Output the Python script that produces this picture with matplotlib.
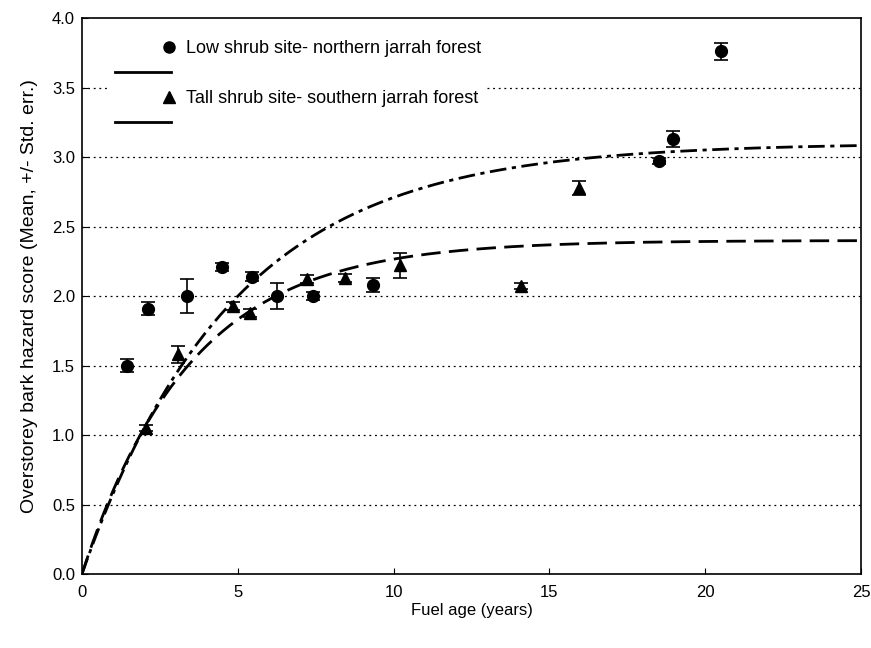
import numpy as np
import matplotlib
matplotlib.use("Agg")
import matplotlib.pyplot as plt
from matplotlib.lines import Line2D
from matplotlib.legend_handler import HandlerLine2D

plt.rcParams['font.family'] = ['Liberation Sans', 'DejaVu Sans']

# Low shrub site - northern jarrah forest (circles)
low_age = [1.43, 2.13, 3.36, 4.48, 5.45, 6.25, 7.42, 9.35, 18.53, 18.96, 20.5]
low_score = [1.50, 1.91, 2.00, 2.21, 2.14, 2.00, 2.00, 2.08, 2.97, 3.13, 3.76]
low_err = [0.05, 0.05, 0.12, 0.03, 0.03, 0.09, 0.03, 0.05, 0.02, 0.06, 0.06]

# Tall shrub site - southern jarrah forest (triangles)
tall_age = [2.07, 3.09, 4.86, 5.39, 7.21, 8.44, 10.2, 14.1, 15.95]
tall_score = [1.05, 1.58, 1.93, 1.88, 2.12, 2.13, 2.22, 2.07, 2.78]
tall_err = [0.02, 0.06, 0.03, 0.03, 0.03, 0.03, 0.09, 0.02, 0.05]

# fitted curves y = a * (1 - exp(-b * age)), parameters
low_fit_a, low_fit_b = 3.10, 0.207
tall_fit_a, tall_fit_b = 2.40, 0.288

x_ticks = [0, 5, 10, 15, 20, 25]
y_ticks = [0.0, 0.5, 1.0, 1.5, 2.0, 2.5, 3.0, 3.5, 4.0]

fig = plt.figure(figsize=(8.71, 6.48), dpi=100)
ax = fig.add_axes([0.0941, 0.1142, 0.8944, 0.858])

for yt in y_ticks[1:-1]:
    ax.axhline(yt, color='black', linestyle=(0, (1.5, 3)), linewidth=0.9, zorder=1)

xs = np.linspace(0, 25, 300)
ax.plot(xs, low_fit_a * (1 - np.exp(-low_fit_b * xs)), color='black', lw=2,
        linestyle=(0, (6, 2, 1.5, 2)), zorder=2)
ax.plot(xs, tall_fit_a * (1 - np.exp(-tall_fit_b * xs)), color='black', lw=2,
        linestyle=(0, (7, 3)), zorder=2)

ax.errorbar(low_age, low_score, yerr=low_err, fmt='o', color='black', ms=8.5,
            capsize=5, elinewidth=1.2, capthick=1.2, zorder=4)
ax.errorbar(tall_age, tall_score, yerr=tall_err, fmt='^', color='black', ms=8.5,
            capsize=5, elinewidth=1.2, capthick=1.2, zorder=4)

ax.set_xlim(0, 25)
ax.set_ylim(0, 4)
ax.set_xticks(x_ticks)
ax.set_yticks(y_ticks)
ax.set_yticklabels([f"{v:.1f}" for v in y_ticks])
ax.tick_params(direction='in', labelsize=12, length=4)
ax.tick_params(axis='y', pad=5)
ax.tick_params(axis='x', pad=8)
for s in ax.spines.values():
    s.set_linewidth(1.2)

ax.set_xlabel("Fuel age (years)", fontsize=12, labelpad=2)
ax.set_ylabel("Overstorey bark hazard score (Mean, +/- Std. err.)", fontsize=14, labelpad=10)


class RightMarkerHandler(HandlerLine2D):
    def create_artists(self, legend, orig_handle, xdescent, ydescent, width,
                       height, fontsize, trans):
        artists = super().create_artists(legend, orig_handle, xdescent, ydescent,
                                          width, height, fontsize, trans)
        for a in artists:
            xd = np.asarray(a.get_xdata(), dtype=float)
            a.set_xdata(np.full_like(xd, width - xdescent - 2))
        return artists


h_low = Line2D([], [], marker='o', color='black', linestyle='none', ms=8)
h_tall = Line2D([], [], marker='^', color='black', linestyle='none', ms=8)
handles = [h_low, Line2D([], [], color='black', lw=2),
           h_tall, Line2D([], [], color='black', lw=2)]
labels = ["Low shrub site- northern jarrah forest", "",
          "Tall shrub site- southern jarrah forest", ""]
leg = ax.legend(handles, labels, loc='upper left', bbox_to_anchor=(0.036, 0.970),
                borderaxespad=0, frameon=True, fontsize=13, handlelength=3.1,
                labelspacing=0.45, handletextpad=0.8, borderpad=0.3,
                handler_map={h_low: RightMarkerHandler(numpoints=1),
                             h_tall: RightMarkerHandler(numpoints=1)})
leg.get_frame().set_facecolor('white')
leg.get_frame().set_edgecolor('none')
leg.get_frame().set_alpha(1)

fig.savefig("out.png", dpi=100)
